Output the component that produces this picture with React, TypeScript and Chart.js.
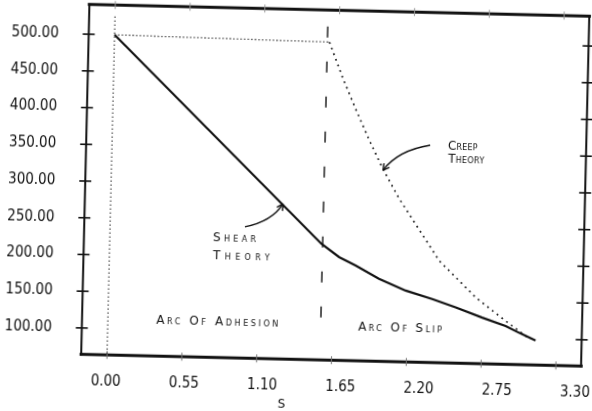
import React, { useEffect, useRef } from "react";
import { Chart, registerables } from "chart.js";

Chart.register(...registerables);

// ---- data ----
const xTickValues = [0, 0.55, 1.1, 1.65, 2.2, 2.75, 3.3];
const yTickValues = [100, 150, 200, 250, 300, 350, 400, 450, 500];

const shearS = [0, 1.555, 1.688, 1.811, 1.985, 2.183, 2.38, 2.553, 2.75, 2.924, 3.023, 3.146];
const shearT = [500, 222.4, 204.7, 193.8, 176.3, 161.2, 150.5, 139.9, 126.9, 116.3, 107.5, 97.6];

const creepS = [0, 1.58, 1.685, 1.788, 1.89, 1.993, 2.12, 2.424, 2.699, 2.923, 3.073, 3.11];
const creepT = [500, 497, 448.3, 405.3, 364.8, 326.6, 286, 203.1, 154.1, 123.1, 103.2, 99];

const adhesionGuideS = [0, 0];
const adhesionGuideT = [525, 64];

const slipBoundaryS = [1.565, 1.565];
const slipBoundaryT = [518, 104];

const xAxisLabel = "S";
const noteTexts = ["Creep", "Theory", "Shear", "Theory", "Arc Of Adhesion", "Arc Of Slip"];

// ---- layout / style (not data) ----
const W = 640;
const H = 430;
const AREA = { left: 85.25, right: 585.25, top: 10.25, bottom: 360.25 };
const X_RANGE = { min: -0.19, max: 3.485 };
const XLABEL_RANGE = { min: -0.177, max: 3.339 };
const Y_RANGE = { min: 64.1, max: 540.6 };

const notePlacement = [
  { x: 2.469, y: 354.3, spacing: 0.2 },
  { x: 2.472, y: 336.4, spacing: 0.3 },
  { x: 0.759, y: 222.3, spacing: 3.3 },
  { x: 0.762, y: 198.5, spacing: 4.4 },
  { x: 0.355, y: 108.5, spacing: 2.6 },
  { x: 1.84, y: 105.1, spacing: 2.4 },
];

const arrows = [
  { from: [2.338, 359.9], ctrl: [2.103, 352.1], to: [1.996, 324.4] },
  { from: [0.991, 242.9], ctrl: [1.187, 250.9], to: [1.267, 275.3] },
];

const TICK_FONT = {
  family: "'DejaVu Sans Condensed', 'Liberation Sans Narrow', 'DejaVu Sans', sans-serif",
  size: 15,
};

const pts = (xs: number[], ys: number[]) => xs.map((x, i) => ({ x, y: ys[i] }));

const decor = {
  id: "decor",
  afterDatasetsDraw(chart: any) {
    const { ctx, chartArea: a, scales } = chart;
    const xs = scales.x;
    const ys = scales.y;
    const seg = (x1: number, y1: number, x2: number, y2: number, w: number, c = "#111") => {
      ctx.beginPath();
      ctx.lineWidth = w;
      ctx.strokeStyle = c;
      ctx.moveTo(x1, y1);
      ctx.lineTo(x2, y2);
      ctx.stroke();
    };
    ctx.save();
    ctx.lineCap = "square";
    // frame
    seg(a.left, a.top, a.right, a.top, 3.2);
    seg(a.left, a.bottom, a.right, a.bottom, 3.2);
    seg(a.left, a.top, a.left, a.bottom, 2);
    seg(a.right, a.top, a.right, a.bottom, 2);
    ctx.lineCap = "butt";
    // y tick marks both sides
    yTickValues.forEach((v) => {
      const py = ys.getPixelForValue(v);
      seg(a.left - 6, py, a.left + 6, py, 1.6);
      seg(a.right - 6, py, a.right + 6, py, 1.6);
    });
    // x tick marks (faint)
    xTickValues.forEach((v) => {
      const px = xs.getPixelForValue(v);
      seg(px, a.bottom - 4, px, a.bottom + 4, 1, "#777");
      seg(px, a.top - 4, px, a.top + 4, 1, "#999");
    });
    // notes
    ctx.fillStyle = "#111";
    ctx.textAlign = "left";
    ctx.textBaseline = "alphabetic";
    noteTexts.forEach((t, i) => {
      const p = notePlacement[i];
      ctx.font = "small-caps 12px 'DejaVu Sans', sans-serif";
      (ctx as any).letterSpacing = p.spacing + "px";
      ctx.fillText(t, xs.getPixelForValue(p.x), ys.getPixelForValue(p.y));
    });
    (ctx as any).letterSpacing = "0px";
    // arrows
    arrows.forEach((ar) => {
      const fx = xs.getPixelForValue(ar.from[0]);
      const fy = ys.getPixelForValue(ar.from[1]);
      const cx = xs.getPixelForValue(ar.ctrl[0]);
      const cy = ys.getPixelForValue(ar.ctrl[1]);
      const tx = xs.getPixelForValue(ar.to[0]);
      const ty = ys.getPixelForValue(ar.to[1]);
      ctx.beginPath();
      ctx.lineWidth = 1.4;
      ctx.strokeStyle = "#111";
      ctx.moveTo(fx, fy);
      ctx.quadraticCurveTo(cx, cy, tx, ty);
      ctx.stroke();
      const ang = Math.atan2(ty - cy, tx - cx);
      const L = 7;
      [0.5, -0.5].forEach((d) => {
        seg(tx, ty, tx - L * Math.cos(ang + d), ty - L * Math.sin(ang + d), 1.4);
      });
    });
    // axis title
    ctx.font = "12px 'DejaVu Sans', sans-serif";
    ctx.textAlign = "center";
    ctx.textBaseline = "middle";
    ctx.fillText(xAxisLabel, xs.getPixelForValue(1.29), a.bottom + 45.7);
    ctx.restore();
  },
};

export default function App() {
  const ref = useRef<HTMLCanvasElement | null>(null);
  useEffect(() => {
    const canvas = ref.current;
    if (!canvas) return;
    const chart = new Chart(canvas, {
      type: "line",
      data: {
        datasets: [
          {
            label: "Shear Theory",
            data: pts(shearS, shearT),
            borderColor: "#111",
            borderWidth: 2.2,
            pointRadius: 0,
            tension: 0,
            xAxisID: "x",
            yAxisID: "y",
          },
          {
            label: "Creep Theory",
            data: pts(creepS, creepT),
            borderColor: "#222",
            borderWidth: 1.7,
            borderDash: [1.8, 4.2],
            pointRadius: 0,
            tension: 0,
            segment: {
              borderDash: (c: any) => (c.p0DataIndex === 0 ? [1.2, 2.4] : undefined),
              borderWidth: (c: any) => (c.p0DataIndex === 0 ? 1.3 : undefined),
            },
            xAxisID: "x",
            yAxisID: "y",
          },
          {
            label: "Adhesion limit",
            data: pts(adhesionGuideS, adhesionGuideT),
            borderColor: "#333",
            borderWidth: 1.3,
            borderDash: [1.2, 2.8],
            pointRadius: 0,
            xAxisID: "x",
            yAxisID: "y",
          },
          {
            label: "Slip boundary",
            data: pts(slipBoundaryS, slipBoundaryT),
            borderColor: "#222",
            borderWidth: 1.5,
            borderDash: [11, 24],
            pointRadius: 0,
            xAxisID: "x",
            yAxisID: "y",
          },
        ],
      },
      options: {
        responsive: false,
        animation: false,
        devicePixelRatio: 1,
        events: [],
        layout: { padding: { left: 0, right: W - AREA.right, top: AREA.top, bottom: 0 } },
        plugins: {
          legend: { display: false },
          tooltip: { enabled: false },
          title: { display: false },
        },
        scales: {
          x: { type: "linear", display: false, min: X_RANGE.min, max: X_RANGE.max },
          xl: {
            type: "linear",
            position: "bottom",
            min: XLABEL_RANGE.min,
            max: XLABEL_RANGE.max,
            grid: { display: false, drawTicks: false },
            border: { display: false },
            afterBuildTicks: (s: any) => {
              s.ticks = xTickValues.map((v) => ({ value: v }));
            },
            afterFit: (s: any) => {
              s.height = H - AREA.bottom;
              s.paddingLeft = 0;
              s.paddingRight = 0;
            },
            ticks: {
              padding: 18,
              autoSkip: false,
              maxRotation: 0,
              color: "#111",
              font: TICK_FONT,
              callback: (v: any) => Number(v).toFixed(2),
            },
          },
          y: {
            type: "linear",
            position: "left",
            min: Y_RANGE.min,
            max: Y_RANGE.max,
            grid: { display: false, drawTicks: false },
            border: { display: false },
            afterBuildTicks: (s: any) => {
              s.ticks = yTickValues.map((v) => ({ value: v }));
            },
            afterFit: (s: any) => {
              s.width = AREA.left;
              s.paddingTop = 0;
              s.paddingBottom = 0;
            },
            ticks: {
              padding: 30,
              autoSkip: false,
              color: "#111",
              font: TICK_FONT,
              callback: (v: any) => Number(v).toFixed(2),
            },
          },
        },
      },
      plugins: [decor],
    } as any);
    return () => chart.destroy();
  }, []);

  return (
    <div
      style={{
        position: "absolute",
        left: 0,
        top: 0,
        width: 592,
        height: 411,
        overflow: "hidden",
        background: "#fff",
      }}
    >
      <canvas
        ref={ref}
        width={W}
        height={H}
        style={{
          position: "absolute",
          left: 0,
          top: 0,
          width: W,
          height: H,
          transform: "rotate(1.35deg)",
          transformOrigin: "335.25px 185.25px",
        }}
      />
    </div>
  );
}
